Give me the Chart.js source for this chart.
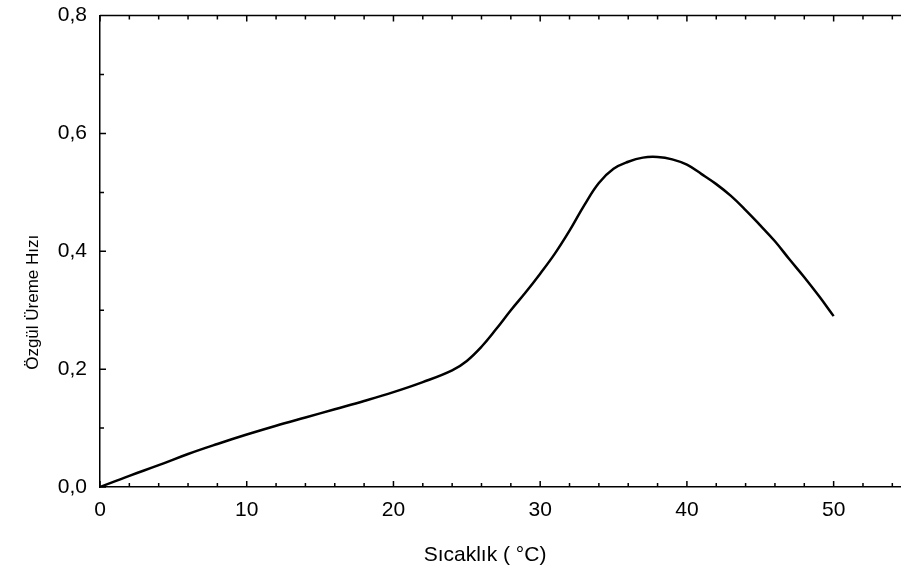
<!DOCTYPE html>
<html>
<head>
  <meta charset="UTF-8">
  <title>Özgül Üreme Hızı</title>
  <script src="https://cdn.jsdelivr.net/npm/chart.js"></script>
  <style>
    body, html {
      margin: 0;
      padding: 0;
      background: #fff;
      overflow: hidden;
    }
    /* slightly larger than the window, so the frame starts right under the top edge */
    #chart-container {
      width: 907px;
      height: 587px;
      margin-top: -10px;
      position: relative;
    }
  </style>
</head>
<body>
  <div id="chart-container">
    <canvas id="growthChart"></canvas>
  </div>

  <script>
    // sicaklik (C) ve ozgul ureme hizi
    const temps = [0, 2, 4, 6, 8, 10, 12, 14, 16, 18, 20, 22, 24, 25, 26, 27, 28, 29, 30,
                   31, 32, 33, 34, 35, 36, 37, 38, 39, 40, 41, 42, 43, 44, 45, 46, 47, 48, 49, 50];
    const rates = [0, 0.019, 0.037, 0.056, 0.073, 0.089, 0.104, 0.118, 0.132, 0.146, 0.161, 0.178, 0.198, 0.214, 0.238,
                   0.268, 0.300, 0.330, 0.362, 0.396, 0.435, 0.478, 0.516, 0.540, 0.552, 0.559, 0.560, 0.556, 0.547,
                   0.531, 0.514, 0.494, 0.470, 0.444, 0.417, 0.386, 0.356, 0.324, 0.290];
    const xTicks = [0, 10, 20, 30, 40, 50];
    const yTicks = [0, 0.2, 0.4, 0.6, 0.8];

    const font = "'Liberation Sans', Arial, sans-serif";

    // inward ticks, top frame line and the two axis titles
    const frame = {
      id: 'frame',
      afterDraw(chart) {
        const c = chart.ctx;
        const a = chart.chartArea;
        const xs = chart.scales.x, ys = chart.scales.y;
        c.save();
        c.strokeStyle = '#000';
        c.lineWidth = 1.5;
        c.beginPath();
        c.moveTo(a.left, a.top);
        c.lineTo(a.right, a.top);
        for (let v = 0; v <= 55; v += 2) {
          const px = xs.getPixelForValue(v);
          const len = v % 10 === 0 ? 6 : 4;
          c.moveTo(px, a.bottom); c.lineTo(px, a.bottom - len);
          c.moveTo(px, a.top); c.lineTo(px, a.top + len);
        }
        for (let i = 0; i <= 8; i++) {
          const py = ys.getPixelForValue(i / 10);
          const len = i % 2 === 0 ? 6 : 4;
          c.moveTo(a.left, py); c.lineTo(a.left + len, py);
        }
        c.stroke();

        c.fillStyle = '#000';
        c.textAlign = 'center';
        c.textBaseline = 'middle';
        c.font = '21px ' + font;
        c.fillText('Sıcaklık ( °C)', 485, a.bottom + 68);
        c.font = '17px ' + font;
        c.translate(33, (a.top + a.bottom) / 2 + 51);
        c.rotate(-Math.PI / 2);
        c.fillText('Özgül Üreme Hızı', 0, 0);
        c.restore();
      }
    };

    new Chart(document.getElementById('growthChart'), {
      type: 'line',
      data: {
        datasets: [{
          data: temps.map((t, i) => ({ x: t, y: rates[i] })),
          borderColor: '#000',
          borderWidth: 2.5,
          pointRadius: 0,
          tension: 0.4,
          fill: false
        }]
      },
      options: {
        responsive: true,
        maintainAspectRatio: false,
        animation: false,
        layout: { padding: { top: 0, right: 0 } },
        plugins: {
          legend: { display: false },
          tooltip: { enabled: false }
        },
        scales: {
          x: {
            type: 'linear',
            min: 0,
            max: 55,
            afterBuildTicks: s => { s.ticks = xTicks.map(v => ({ value: v })); },
            afterFit: s => { s.height = 90; },
            grid: { drawOnChartArea: false, drawTicks: false },
            border: { color: '#000', width: 1.5 },
            ticks: { color: '#000', padding: 11, font: { family: font, size: 21 } }
          },
          y: {
            min: 0,
            max: 0.8,
            afterBuildTicks: s => { s.ticks = yTicks.map(v => ({ value: v })); },
            afterFit: s => { s.width = 100; },
            grid: { drawOnChartArea: false, drawTicks: false },
            border: { color: '#000', width: 1.5 },
            ticks: {
              color: '#000',
              padding: 13,
              font: { family: font, size: 21 },
              callback: v => v.toFixed(1).replace('.', ',')
            }
          }
        }
      },
      plugins: [frame]
    });
  </script>
</body>
</html>
